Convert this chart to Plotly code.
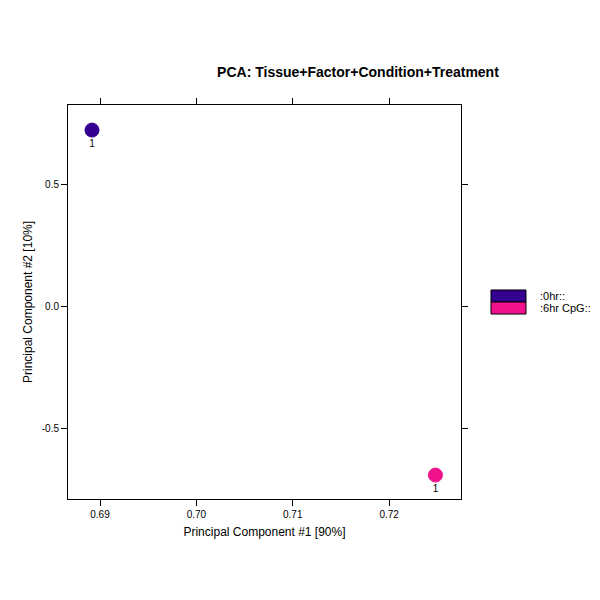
import plotly.graph_objects as go

groups = [":0hr::", ":6hr CpG::"]
colors = ["#33008F", "#F0118C"]
pc1 = [0.68917, 0.72481]
pc2 = [0.721, -0.693]
labels = ["1", "1"]

fig = go.Figure()
for g, c, x, y, t in zip(groups, colors, pc1, pc2, labels):
    fig.add_trace(go.Scatter(
        x=[x], y=[y], mode="markers+text", text=[t], textposition="bottom center",
        textfont=dict(size=10, color="black"),
        marker=dict(size=14, color=c, line=dict(color=c, width=1)),
        name=g, showlegend=False, cliponaxis=False))

# legend boxes, lattice style
for i, (g, c) in enumerate(zip(groups, colors)):
    y0 = 0.5 - 0.0305 * i
    fig.add_shape(type="rect", xref="paper", yref="paper",
                  x0=1.0763, x1=1.1654, y0=y0, y1=y0 + 0.0305,
                  fillcolor=c, line=dict(color="black", width=1))
    fig.add_annotation(xref="paper", yref="paper", x=1.195, y=y0 + 0.015,
                       text=g, showarrow=False, xanchor="left",
                       font=dict(size=11, color="black"))

axis = dict(showgrid=False, zeroline=False, showline=True, linecolor="black",
            linewidth=1, mirror="ticks", ticks="outside", ticklen=6, automargin=False,
            tickcolor="black", tickfont=dict(size=10, color="black"))
fig.update_xaxes(**axis, range=[0.68668, 0.72746],
                 tickvals=[0.69, 0.70, 0.71, 0.72], ticktext=["0.69", "0.70", "0.71", "0.72"],
                 title=dict(text="Principal Component #1 [90%]", font=dict(size=12), standoff=8))
fig.update_yaxes(**axis, range=[-0.791, 0.8238],
                 tickvals=[-0.5, 0.0, 0.5], ticktext=["-0.5", "0.0", "0.5"],
                 title=dict(text="Principal Component #2 [10%]", font=dict(size=12), standoff=6))
fig.update_layout(
    width=600, height=600, plot_bgcolor="white", paper_bgcolor="white",
    font=dict(family="Liberation Sans, Arial, sans-serif", color="black"),
    margin=dict(l=60, r=147, t=97, b=109, autoexpand=False),
    title=dict(text="<b>PCA: Tissue+Factor+Condition+Treatment</b>", x=0.5833, xanchor="center",
               y=0.893, yanchor="middle", font=dict(size=14)),
)
fig.write_html("out.html")
